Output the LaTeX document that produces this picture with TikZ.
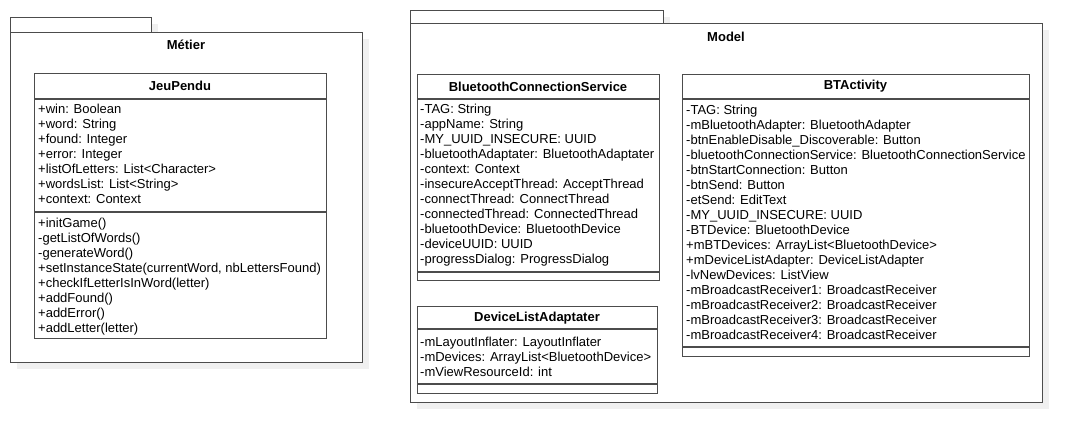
\documentclass[tikz,border=0pt]{standalone}
\usepackage{fontspec}
\setmainfont{Liberation Sans}
\begin{document}
\begin{tikzpicture}[x=1pt,y=-1pt,
  line/.style={draw=black!70, line width=1.1pt},
  shadow/.style={fill=black!6, draw=none},
  txt/.style={anchor=base west, inner sep=0pt, font=\fontsize{13}{15}\selectfont},
  hdr/.style={inner sep=0pt, font=\fontsize{13}{15}\selectfont\bfseries},
  box/.style={line, fill=white, anchor=north west, inner sep=0pt}]
\useasboundingbox (0,0) rectangle (1082,442);
\fill[white] (0,0) rectangle (1082,442);

% ---------- shadows ----------
\fill[shadow] (17,24) rectangle (158,39);
\fill[shadow] (17,39) rectangle (369,369);
\fill[shadow] (417,17) rectangle (670,30);
\fill[shadow] (417,30) rectangle (1049,409);
\fill[shadow] (41,80) rectangle (333,345);
\fill[shadow] (424,81) rectangle (666,287);
\fill[shadow] (424,313) rectangle (664,400);
\fill[shadow] (689,81) rectangle (1036,363);

% ---------- package Métier ----------
\node[box, minimum width=141pt, minimum height=15pt] (mtab) at (10,17) {};
\node[box, minimum width=352pt, minimum height=330pt] (met) at (10,32) {};
\node[hdr] (metl) at (186,45) {Métier};

% ---------- package Model ----------
\node[box, minimum width=253pt, minimum height=13pt] (motab) at (410,10) {};
\node[box, minimum width=632pt, minimum height=379pt] (mod) at (410,23) {};
\node[hdr] (modl) at (726,37) {Model};

% ---------- JeuPendu ----------
\node[box, minimum width=292pt, minimum height=265pt] (jp) at (34,73) {};
\node[hdr] (jph) at (180,86) {JeuPendu};
\coordinate (jp1) at (34,99); \coordinate (jp1e) at (326,99);
\coordinate (jp2) at (34,212); \coordinate (jp2e) at (326,212);
\draw[line] (jp1) -- (jp1e);
\draw[line] (jp2) -- (jp2e);
\foreach \t [count=\i] in {+win: Boolean,+word: String,+found: Integer,+error: Integer,+listOfLetters: List<Character>,+wordsList: List<String>,+context: Context}
  \node[txt] (jpa\i) at (38,{113.5+15*(\i-1)}) {\t};
\foreach \t [count=\i] in {+initGame(),-getListOfWords(),-generateWord(),{+setInstanceState(currentWord, nbLettersFound)},+checkIfLetterIsInWord(letter),+addFound(),+addError(),+addLetter(letter)}
  \node[txt] (jpm\i) at (38,{227.5+15*(\i-1)}) {\t};

% ---------- BluetoothConnectionService ----------
\node[box, minimum width=242pt, minimum height=206pt] (bcs) at (417,74) {};
\node[hdr] (bcsh) at (538,86.5) {BluetoothConnectionService};
\coordinate (bc1) at (417,99); \coordinate (bc1e) at (659,99);
\coordinate (bc2) at (417,272); \coordinate (bc2e) at (659,272);
\draw[line] (bc1) -- (bc1e);
\draw[line] (bc2) -- (bc2e);
\foreach \t [count=\i] in {-TAG: String,-appName: String,-MY\_UUID\_INSECURE: UUID,-bluetoothAdaptater: BluetoothAdaptater,-context: Context,-insecureAcceptThread: AcceptThread,-connectThread: ConnectThread,-connectedThread: ConnectedThread,-bluetoothDevice: BluetoothDevice,-deviceUUID: UUID,-progressDialog: ProgressDialog}
  \node[txt] (bca\i) at (420,{113.5+15*(\i-1)}) {\t};

% ---------- DeviceListAdaptater ----------
\node[box, minimum width=240pt, minimum height=87pt] (dla) at (417,306) {};
\node[hdr] (dlah) at (537,318) {DeviceListAdaptater};
\coordinate (dl1) at (417,329); \coordinate (dl1e) at (657,329);
\coordinate (dl2) at (417,384); \coordinate (dl2e) at (657,384);
\draw[line] (dl1) -- (dl1e);
\draw[line] (dl2) -- (dl2e);
\foreach \t [count=\i] in {-mLayoutInflater: LayoutInflater,-mDevices: ArrayList<BluetoothDevice>,-mViewResourceId: int}
  \node[txt] (dlaa\i) at (420,{346.5+15*(\i-1)}) {\t};

% ---------- BTActivity ----------
\node[box, minimum width=347pt, minimum height=282pt] (bta) at (682,74) {};
\node[hdr] (btah) at (855.5,86.5) {BTActivity};
\coordinate (bt1) at (682,99); \coordinate (bt1e) at (1029,99);
\coordinate (bt2) at (682,347); \coordinate (bt2e) at (1029,347);
\draw[line] (bt1) -- (bt1e);
\draw[line] (bt2) -- (bt2e);
\foreach \t [count=\i] in {-TAG: String,-mBluetoothAdapter: BluetoothAdapter,-btnEnableDisable\_Discoverable: Button,-bluetoothConnectionService: BluetoothConnectionService,-btnStartConnection: Button,-btnSend: Button,-etSend: EditText,-MY\_UUID\_INSECURE: UUID,-BTDevice: BluetoothDevice,+mBTDevices: ArrayList<BluetoothDevice>,+mDeviceListAdapter: DeviceListAdapter,-lvNewDevices: ListView,-mBroadcastReceiver1: BroadcastReceiver,-mBroadcastReceiver2: BroadcastReceiver,-mBroadcastReceiver3: BroadcastReceiver,-mBroadcastReceiver4: BroadcastReceiver}
  \node[txt] (btaa\i) at (686,{114+15*(\i-1)}) {\t};
\end{tikzpicture}
\end{document}
